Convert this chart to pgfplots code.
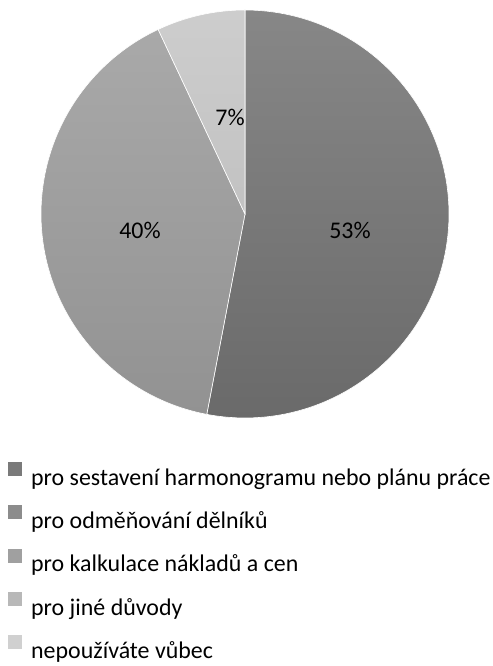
\documentclass[border=0pt]{standalone}
\usepackage{pgfplots}
\pgfplotsset{compat=1.18}
\usepackage{fontspec}
\setmainfont{Carlito}
\definecolor{s1t}{HTML}{878787}
\definecolor{s1b}{HTML}{6A6A6A}
\definecolor{s3t}{HTML}{A9A9A9}
\definecolor{s3b}{HTML}{929292}
\definecolor{s5t}{HTML}{CDCDCD}
\definecolor{s5b}{HTML}{C2C2C2}
\definecolor{l1}{HTML}{7A7A7A}
\definecolor{l2}{HTML}{8C8C8C}
\definecolor{l3}{HTML}{A0A0A0}
\definecolor{l4}{HTML}{B8B8B8}
\definecolor{l5}{HTML}{D0D0D0}
% values (percent)
\def\va{53}\def\vb{0}\def\vc{40}\def\vd{0}\def\ve{7}
\pgfmathsetmacro{\aA}{90}
\pgfmathsetmacro{\aB}{90-3.6*\va}
\pgfmathsetmacro{\aC}{\aB-3.6*\vb-3.6*\vc}
\pgfmathsetmacro{\aD}{\aC-3.6*\vd-3.6*\ve}
\begin{document}
\begin{tikzpicture}
\begin{axis}[
  scale only axis, width=493bp, height=666bp,
  xmin=0, xmax=493, ymin=0, ymax=666,
  hide axis, clip=false,
  legend style={at={(axis cs:8,207)}, anchor=north west, draw=none, fill=none, overlay,
    font=\fontsize{24}{26}\selectfont, row sep=13.5bp, inner sep=0pt,
    cells={anchor=west, inner sep=0pt, outer sep=0pt, text height=18bp, text depth=6bp}},
  legend image code/.code={\path[draw=none,fill=none] (0bp,-6bp) rectangle (21bp,18bp);
    \fill[#1] (0bp,1bp) rectangle (14bp,15bp);},
]
\addlegendimage{fill=l1,draw=none}\addlegendentry{pro sestavení harmonogramu nebo plánu práce}
\addlegendimage{fill=l2,draw=none}\addlegendentry{pro odměňování dělníků}
\addlegendimage{fill=l3,draw=none}\addlegendentry{pro kalkulace nákladů a cen}
\addlegendimage{fill=l4,draw=none}\addlegendentry{pro jiné důvody}
\addlegendimage{fill=l5,draw=none}\addlegendentry{nepoužíváte vůbec}
\path (axis cs:0,0) rectangle (axis cs:493,666);
\addplot[forget plot, draw=white, line width=0.6bp, top color=s1t, bottom color=s1b,
  domain=\aB:\aA, samples=120, variable=\t]
  ({245+204*cos(\t)},{452+204*sin(\t)}) -- (axis cs:245,452) -- cycle;
\addplot[forget plot, draw=white, line width=0.6bp, top color=s3t, bottom color=s3b,
  domain=\aC:\aB, samples=100, variable=\t]
  ({245+204*cos(\t)},{452+204*sin(\t)}) -- (axis cs:245,452) -- cycle;
\addplot[forget plot, draw=white, line width=0.6bp, top color=s5t, bottom color=s5b,
  domain=\aD:\aC, samples=30, variable=\t]
  ({245+204*cos(\t)},{452+204*sin(\t)}) -- (axis cs:245,452) -- cycle;
\node[font=\fontsize{24}{26}\selectfont] at (axis cs:350,436) {53\%};
\node[font=\fontsize{24}{26}\selectfont] at (axis cs:140,436) {40\%};
\node[font=\fontsize{24}{26}\selectfont] at (axis cs:230,549) {7\%};
\end{axis}
\end{tikzpicture}
\end{document}
